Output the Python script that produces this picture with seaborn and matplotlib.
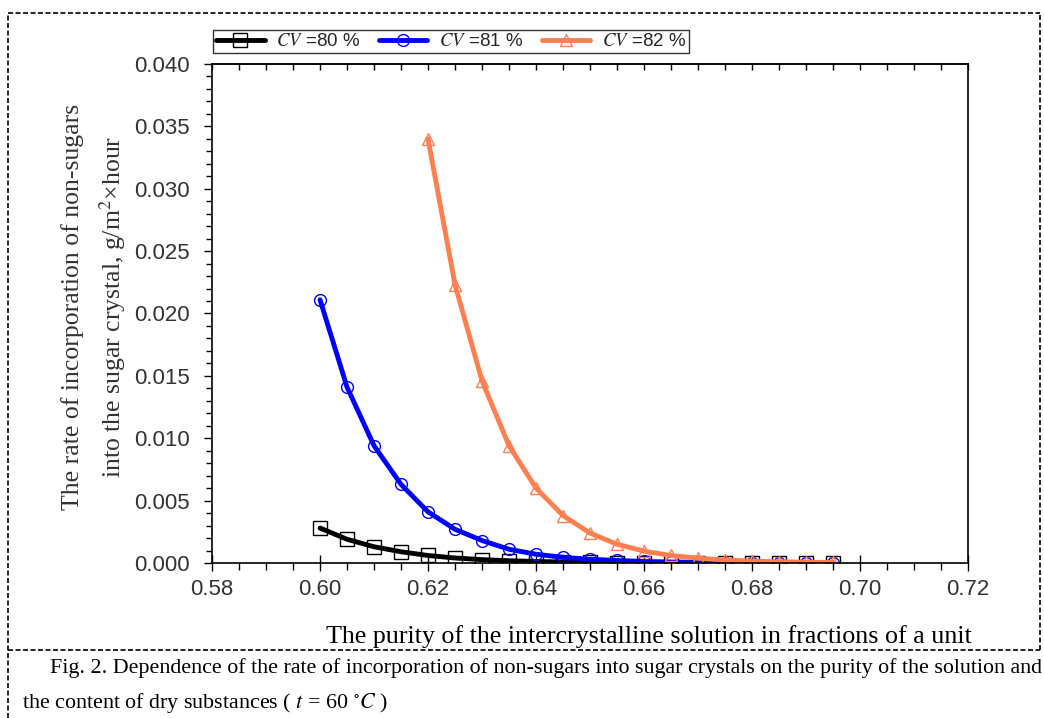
import numpy as np
import pandas as pd
import matplotlib
matplotlib.use("Agg")
import matplotlib.pyplot as plt
import seaborn as sns
from matplotlib.lines import Line2D
from matplotlib.ticker import MultipleLocator, FormatStrFormatter

# Purity of the intercrystalline solution (fractions of a unit)
purity = [0.600, 0.605, 0.610, 0.615, 0.620, 0.625, 0.630, 0.635, 0.640, 0.645,
          0.650, 0.655, 0.660, 0.665, 0.670, 0.675, 0.680, 0.685, 0.690, 0.695]
purity_82 = purity[4:]

# Rate of incorporation of non-sugars, g/m2 x hour
rate_cv80 = [0.0028, 0.0019, 0.0013, 0.0009, 0.0006, 0.0004, 0.00027, 0.00018, 0.00012, 0.00008,
             0.00005, 0.00003, 0.00002, 0.00001, 0.00001, 0.0, 0.0, 0.0, 0.0, 0.0]
rate_cv81 = [0.0211, 0.0141, 0.0094, 0.0063, 0.0041, 0.0027, 0.0018, 0.0011, 0.0007, 0.00045,
             0.0003, 0.0002, 0.00012, 0.00008, 0.00005, 0.00003, 0.00002, 0.00001, 0.00001, 0.0]
rate_cv82 = [0.0340, 0.0223, 0.0146, 0.0094, 0.0060, 0.0038, 0.0024, 0.0015, 0.00095, 0.0006,
             0.00038, 0.00024, 0.00015, 0.0001, 0.00006, 0.00004]

labels = ["$CV$ =80 %", "$CV$ =81 %", "$CV$ =82 %"]
colors = ["black", "#0000ff", "#ff7f50"]
markers = ["s", "o", "^"]

sns.set_theme(style="ticks")
plt.rcParams["font.family"] = ["Liberation Sans", "DejaVu Sans"]
plt.rcParams["mathtext.fontset"] = "stix"

fig = plt.figure(figsize=(10.44, 7.18), dpi=100)
ax = fig.add_axes([0.2031, 0.2159, 0.7241, 0.6950])

series = [(purity, rate_cv80), (purity, rate_cv81), (purity_82, rate_cv82)]
sizes = [9.5, 8.5, 8.5]
for (x, y), lab, c, m, ms in zip(series, labels, colors, markers, sizes):
    sns.lineplot(x=x, y=y, ax=ax, color=c, linewidth=3.5, marker=m, markersize=ms,
                 markerfacecolor="none", markeredgecolor=c, markeredgewidth=1.0,
                 label=lab, legend=False)

ax.set_xlim(0.58, 0.72)
ax.set_ylim(0.0, 0.040)
ax.xaxis.set_major_locator(MultipleLocator(0.02))
ax.xaxis.set_minor_locator(MultipleLocator(0.005))
ax.yaxis.set_major_locator(MultipleLocator(0.005))
ax.yaxis.set_minor_locator(MultipleLocator(0.001))
ax.xaxis.set_major_formatter(FormatStrFormatter("%.2f"))
ax.yaxis.set_major_formatter(FormatStrFormatter("%.3f"))

for s in ax.spines.values():
    s.set_color("black")
    s.set_linewidth(1.2)

ax.tick_params(axis="both", which="major", labelsize=16, colors="black", labelcolor="#333333", width=1.0)
ax.tick_params(axis="x", which="major", direction="inout", length=11, pad=6)
ax.tick_params(axis="x", which="minor", direction="out", length=5, width=1.0, color="black")
ax.tick_params(axis="y", which="major", direction="out", length=6, pad=10)
ax.tick_params(axis="y", which="minor", direction="out", length=4, width=1.0, color="black")
ax.tick_params(top=False, right=False, which="both")

# inward ticks along the top spine
top = ax.secondary_xaxis("top")
top.xaxis.set_major_locator(MultipleLocator(0.005))
top.tick_params(direction="in", length=4, width=1.0, color="black", labeltop=False)
top.spines["top"].set_linewidth(1.2)

ax.set_xlabel("The purity of the intercrystalline solution in fractions of a unit",
              family="Liberation Serif", fontsize=18.7, color="black")
ax.xaxis.set_label_coords(0.578, -0.125)
ax.set_ylabel("The rate of incorporation of non-sugars\ninto the sugar crystal, g/m$^{2}$×hour",
              family="Liberation Serif", fontsize=18.5, color="#333333", linespacing=1.55)
ax.yaxis.set_label_coords(-0.111, 0.513)

handles = [Line2D([0], [0], color=c, linewidth=3.5, marker=m, markersize=ms,
                  markerfacecolor="none", markeredgecolor=c) for c, m, ms in zip(colors, markers, sizes)]
leg = fig.legend(handles, labels, loc="lower left", bbox_to_anchor=(213 / 1044, 1 - 53 / 718),
                 ncol=3, frameon=True, fancybox=False, fontsize=13.5, handlelength=2.6,
                 borderpad=0.15, columnspacing=1.0, handletextpad=0.6, borderaxespad=0)
leg.get_frame().set_edgecolor("black")
leg.get_frame().set_linewidth(1.0)

# dashed page border and caption separator
dash = dict(color="black", linewidth=1.2, linestyle=(0, (3, 1.5)))
fig.add_artist(Line2D([8 / 1044, 1040 / 1044], [1 - 13 / 718, 1 - 13 / 718], **dash))
fig.add_artist(Line2D([8 / 1044, 8 / 1044], [0, 1 - 13 / 718], **dash))
fig.add_artist(Line2D([1040 / 1044, 1040 / 1044], [1 - 650 / 718, 1 - 13 / 718], **dash))
fig.add_artist(Line2D([8 / 1044, 1040 / 1044], [1 - 650 / 718, 1 - 650 / 718], **dash))

fig.text(50 / 1044, 1 - 668 / 718,
         "Fig. 2. Dependence of the rate of incorporation of non-sugars into sugar crystals on the purity of the solution and",
         family="Liberation Serif", fontsize=15.8, va="center", ha="left", color="black")
fig.text(22 / 1044, 1 - 703 / 718, "the content of dry substances ( $t$ = 60 $^{\\circ}C$ )",
         family="Liberation Serif", fontsize=15.8, va="center", ha="left", color="black")

fig.savefig("out.png", dpi=100)
